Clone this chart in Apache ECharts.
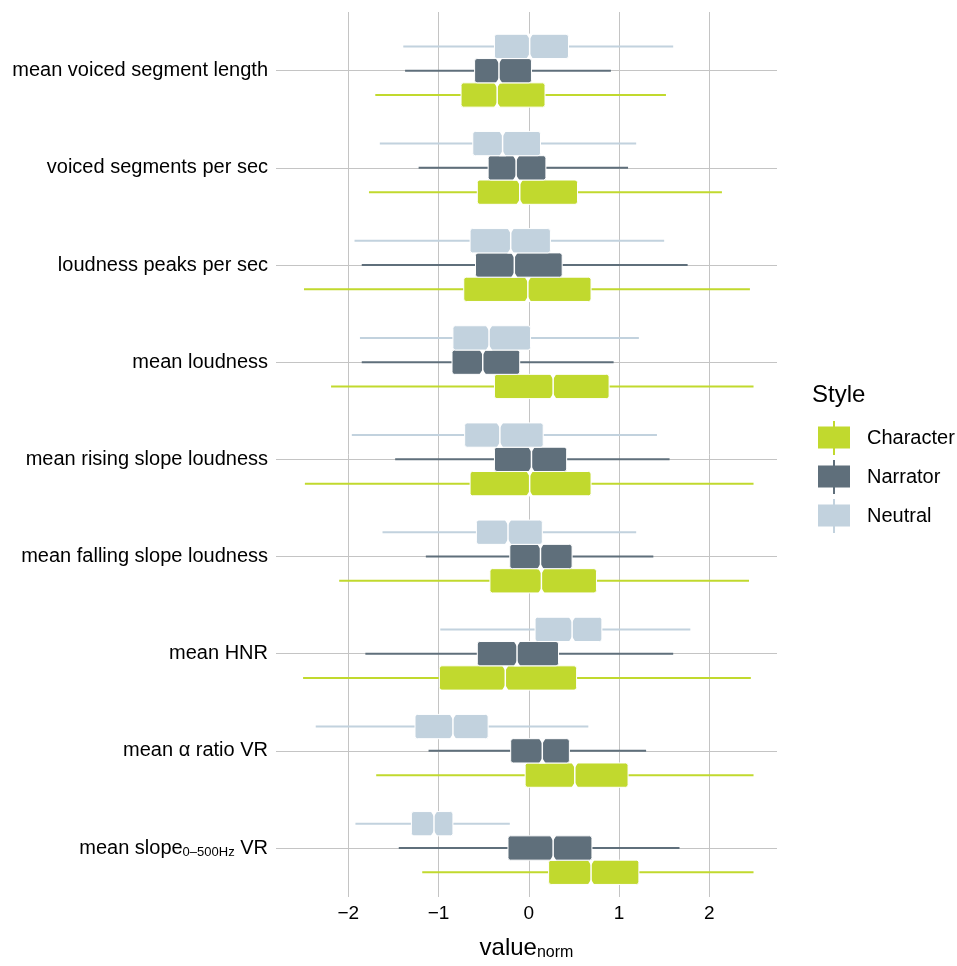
<!DOCTYPE html>
<html>
<head>
<meta charset="utf-8">
<script src="https://cdn.jsdelivr.net/npm/echarts@6/dist/echarts.min.js"></script>
<style>
  html, body { margin: 0; padding: 0; background: #fff; }
  #main { width: 957px; height: 966px; }
</style>
</head>
<body>
<div id="main"></div>
<script>
// categories, top to bottom; "_{...}" marks a subscript
var categories = [
  'mean voiced segment length',
  'voiced segments per sec',
  'loudness peaks per sec',
  'mean loudness',
  'mean rising slope loudness',
  'mean falling slope loudness',
  'mean HNR',
  'mean α ratio VR',
  'mean slope_{0–500Hz} VR'
]

var styles = ['Character', 'Narrator', 'Neutral']
var colors = ['#c1d92e', '#5f6f7b', '#c2d2de']

// [whisker low, q1, median, q3, whisker high] per category
var neutralStats = [
  [-1.39, -0.38, 0.01, 0.44, 1.60],
  [-1.65, -0.62, -0.29, 0.13, 1.19],
  [-1.93, -0.65, -0.20, 0.24, 1.50],
  [-1.87, -0.84, -0.44, 0.02, 1.22],
  [-1.96, -0.71, -0.32, 0.16, 1.42],
  [-1.62, -0.58, -0.23, 0.15, 1.19],
  [-0.98, 0.07, 0.48, 0.81, 1.79],
  [-2.36, -1.26, -0.84, -0.45, 0.66],
  [-1.92, -1.30, -1.05, -0.84, -0.21]
]
var narratorStats = [
  [-1.37, -0.60, -0.33, 0.03, 0.91],
  [-1.22, -0.45, -0.14, 0.19, 1.10],
  [-1.85, -0.59, -0.16, 0.37, 1.76],
  [-1.85, -0.85, -0.51, -0.10, 0.94],
  [-1.48, -0.38, 0.03, 0.42, 1.56],
  [-1.14, -0.21, 0.13, 0.48, 1.38],
  [-1.81, -0.57, -0.13, 0.33, 1.60],
  [-1.11, -0.20, 0.15, 0.45, 1.30],
  [-1.44, -0.23, 0.27, 0.70, 1.67]
]
var characterStats = [
  [-1.70, -0.75, -0.35, 0.18, 1.52],
  [-1.77, -0.57, -0.10, 0.54, 2.14],
  [-2.49, -0.72, -0.01, 0.69, 2.45],
  [-2.19, -0.38, 0.27, 0.89, 2.49],
  [-2.48, -0.65, 0.01, 0.69, 2.49],
  [-2.10, -0.43, 0.14, 0.75, 2.44],
  [-2.50, -0.99, -0.26, 0.53, 2.46],
  [-1.69, -0.04, 0.51, 1.10, 2.49],
  [-1.18, 0.22, 0.69, 1.22, 2.49]
]

var xTicks = [-2, -1, 0, 1, 2]
var xMin = -2.8
var xMax = 2.75

var FONT = "'Liberation Sans', Arial, Helvetica, sans-serif"

function labelRich(name){
  var parts = name.split(/_\{|\}/)
  var out = ''
  for(var i = 0; i < parts.length; i++){
    if(parts[i] === '') continue
    out += (i % 2 === 1 ? '{s|' : '{a|') + parts[i] + '}'
  }
  return out
}

// notched horizontal box, shifted by "offset" (fraction of the category step)
function makeRender(offset, color){
  return function(params, api){
    var cat = api.value(0)
    var step = api.coord([0, 1])[1] - api.coord([0, 0])[1]
    var yc = api.coord([0, cat])[1] + offset * step
    var h = step * 0.25
    var y1 = yc - h / 2, y2 = yc + h / 2
    var lo = api.coord([api.value(1), cat])[0]
    var q1 = api.coord([api.value(2), cat])[0]
    var md = api.coord([api.value(3), cat])[0]
    var q3 = api.coord([api.value(4), cat])[0]
    var hi = api.coord([api.value(5), cat])[0]
    var nw = 3.5, nd = 5
    return {
      type: 'group',
      children: [
        { type: 'line', shape: {x1: lo, y1: yc, x2: q1, y2: yc}, style: {stroke: color, lineWidth: 2} },
        { type: 'line', shape: {x1: q3, y1: yc, x2: hi, y2: yc}, style: {stroke: color, lineWidth: 2} },
        { type: 'rect', shape: {x: q1, y: y1, width: q3 - q1, height: h, r: 2.5},
          style: {fill: color, stroke: '#ffffff', lineWidth: 1} },
        { type: 'polygon', shape: {points: [[md - nw, y1 - 0.5], [md + nw, y1 - 0.5], [md, y1 + nd]]},
          style: {fill: '#ffffff'} },
        { type: 'polygon', shape: {points: [[md - nw, y2 + 0.5], [md + nw, y2 + 0.5], [md, y2 - nd]]},
          style: {fill: '#ffffff'} },
        { type: 'line', shape: {x1: md, y1: y1, x2: md, y2: y2}, style: {stroke: '#ffffff', lineWidth: 1.5} }
      ]
    }
  }
}

function toData(stats){
  var d = []
  for(var i = 0; i < stats.length; i++){
    d.push([i].concat(stats[i]))
  }
  return d
}

var statsByStyle = {Character: characterStats, Narrator: narratorStats, Neutral: neutralStats}
var offsets = {Character: 0.25, Narrator: 0, Neutral: -0.25}

var series = []
for(let i = 0; i < styles.length; i++){
  series.push({
    name: styles[i],
    type: 'custom',
    xAxisIndex: 1,
    yAxisIndex: 1,
    itemStyle: {color: colors[i]},
    encode: {x: [1, 2, 3, 4, 5], y: 0},
    renderItem: makeRender(offsets[styles[i]], colors[i]),
    data: toData(statsByStyle[styles[i]]),
    z: 3
  })
}

var option = {
  backgroundColor: '#ffffff',
  animation: false,
  textStyle: {fontFamily: FONT},
  title: {
    text: 'Style',
    left: 812,
    top: 383,
    padding: 0,
    textStyle: {fontFamily: FONT, fontSize: 24, fontWeight: 'normal', color: '#000'}
  },
  legend: {
    orient: 'vertical',
    left: 818,
    top: 421,
    padding: 0,
    itemWidth: 32,
    itemHeight: 34,
    itemGap: 5,
    data: styles.map(function(s){
      return {name: s, icon: 'path://M0,5.5 H32 V27.5 H0 Z M15,0 H17 V34 H15 Z'}
    }),
    textStyle: {fontFamily: FONT, fontSize: 20, color: '#000', padding: [0, 0, 0, 12]}
  },
  grid: [
    {left: 276, right: 180, top: 12, bottom: 55},
    {left: 276, right: 180, top: 70.7, bottom: 118}
  ],
  xAxis: [
    {
      gridIndex: 0,
      type: 'value',
      min: xMin,
      max: xMax,
      axisLine: {show: false},
      axisTick: {show: false, customValues: xTicks},
      splitLine: {show: true, lineStyle: {color: '#c4c4c4', width: 1}},
      axisLabel: {
        customValues: xTicks,
        margin: 7,
        fontFamily: FONT,
        fontSize: 19,
        color: '#000',
        formatter: function(v){ return String(v).replace('-', '\u2212') }
      },
      name: '{a|value}{s|norm}',
      nameLocation: 'middle',
      nameGap: 38,
      nameTextStyle: {
        rich: {
          a: {fontFamily: FONT, fontSize: 24, color: '#000'},
          s: {fontFamily: FONT, fontSize: 16, color: '#000', padding: [10, 0, 0, 0]}
        }
      }
    },
    {
      gridIndex: 1,
      type: 'value',
      min: xMin,
      max: xMax,
      show: false
    }
  ],
  yAxis: [
    {gridIndex: 0, type: 'value', show: false},
    {
      gridIndex: 1,
      type: 'category',
      inverse: true,
      boundaryGap: false,
      data: categories,
      axisLine: {show: false},
      axisTick: {show: false},
      splitLine: {show: true, lineStyle: {color: '#c4c4c4', width: 1}},
      axisLabel: {
        margin: 8,
        formatter: labelRich,
        rich: {
          a: {fontFamily: FONT, fontSize: 20, color: '#000'},
          s: {fontFamily: FONT, fontSize: 13, color: '#000', padding: [8, 0, 0, 0]}
        }
      }
    }
  ],
  series: series
}

var myChart = echarts.init(document.getElementById('main'))
myChart.setOption(option)
</script>
</body>
</html>
